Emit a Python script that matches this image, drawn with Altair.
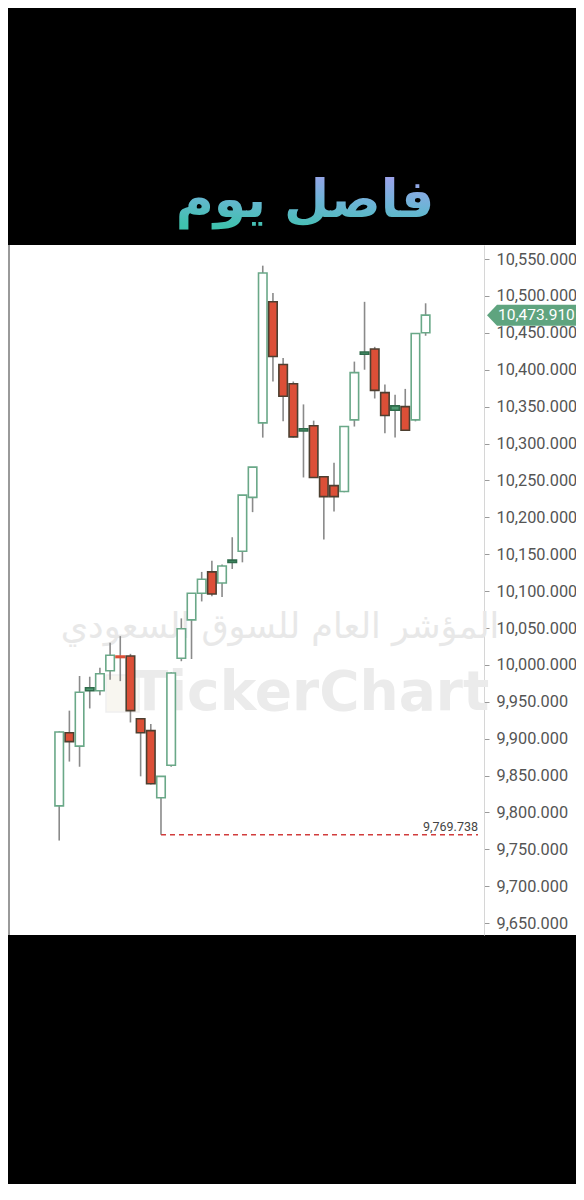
import altair as alt
import pandas as pd

# ---- data ----
idx = list(range(37))
opens = [9809, 9908, 9890, 9965, 9965, 9992, 10012, 10012, 9927, 9911,
         9820, 9864, 10009, 10061, 10097, 10126, 10111, 10139, 10154, 10227,
         10328, 10492, 10407, 10381, 10317, 10324, 10255, 10243, 10235, 10332,
         10421, 10428, 10369, 10345, 10350, 10332, 10450]
highs = [9910, 9938, 9985, 9984, 9996, 10030, 10039, 10015, 9928, 9920,
         9849, 9990, 10063, 10097, 10126, 10141, 10136, 10173, 10230, 10268,
         10541, 10504, 10416, 10384, 10353, 10331, 10256, 10274, 10323, 10411,
         10492, 10431, 10380, 10366, 10374, 10449, 10490]
lows = [9762, 9869, 9862, 9941, 9959, 9980, 9978, 9922, 9849, 9838,
        9769.738, 9862, 10005, 10008, 10086, 10093, 10092, 10130, 10139, 10207,
        10308, 10384, 10330, 10308, 10254, 10254, 10170, 10208, 10234, 10323,
        10400, 10361, 10314, 10308, 10318, 10330, 10446]
closes = [9909, 9896, 9963, 9969, 9988, 10013, 10010, 9938, 9908, 9839,
          9849, 9989, 10049, 10097, 10116, 10096, 10134, 10142, 10230, 10268,
          10531, 10418, 10364, 10309, 10320, 10254, 10228, 10228, 10323, 10396,
          10424, 10372, 10338, 10351, 10318, 10449, 10473.91]

y_ticks = [9650, 9700, 9750, 9800, 9850, 9900, 9950, 10000, 10050, 10100,
           10150, 10200, 10250, 10300, 10350, 10400, 10450, 10500, 10550]
last_price = 10473.91
last_label = "10,473.910"
low_level = 9769.738
low_label = "9,769.738"
low_index = 10
title_text = "فاصل يوم"
wm_arabic = "المؤشر العام للسوق السعودي"
wm_latin = "TickerChart"

df = pd.DataFrame({"i": idx, "o": opens, "h": highs, "l": lows, "c": closes})


def kind(o, c):
    if abs(c - o) <= 8:
        return "updoji" if c >= o else "downdoji"
    return "up" if c > o else "down"


df["kind"] = [kind(o, c) for o, c in zip(df.o, df.c)]

W, H = 566, 690
xscale = alt.Scale(domain=[-4.343, 50.284], nice=False, zero=False)
yscale = alt.Scale(domain=[9634, 10569], nice=False, zero=False)
yaxis = alt.Axis(orient="right", offset=-92, values=y_ticks, format=",.3f",
                 title=None, grid=False, domainColor="#d6d6d6", tickColor="#9a9a9a",
                 tickSize=5, labelPadding=7, labelFont="Roboto", labelFontSize=16.3,
                 labelColor="#555555")

kinds = ["up", "down", "updoji", "downdoji"]
fill_scale = alt.Scale(domain=kinds, range=["#ffffff", "#dc4f37", "#4f9a72", "#dc4f37"])
stroke_scale = alt.Scale(domain=kinds, range=["#6aa888", "#4d3f30", "#2f6b4b", "#dc4f37"])

base = alt.Chart(df)

wicks = base.mark_rule(color="#8a8a8a", strokeWidth=1.6).encode(
    x=alt.X("i:Q", scale=xscale, axis=None),
    y=alt.Y("l:Q", scale=yscale, axis=yaxis),
    y2="h:Q",
)

bodies = base.mark_bar(size=8.5, strokeWidth=1.6).encode(
    x=alt.X("i:Q", scale=xscale, axis=None),
    y=alt.Y("o:Q", scale=yscale, axis=yaxis),
    y2="c:Q",
    fill=alt.Fill("kind:N", scale=fill_scale, legend=None),
    stroke=alt.Stroke("kind:N", scale=stroke_scale, legend=None),
)

one = pd.DataFrame({"i": [low_index], "v": [low_level], "t": [low_label]})
low_line = alt.Chart(one).mark_rule(color="#d13c3c", strokeDash=[5, 4], strokeWidth=1.5).encode(
    x=alt.X("i:Q", scale=xscale, axis=None),
    x2=alt.value(468),
    y=alt.Y("v:Q", scale=yscale, axis=yaxis),
)
low_text = alt.Chart(one).mark_text(align="right", baseline="middle", dy=-8,
                                    font="Roboto", fontSize=12.5, color="#444444").encode(
    x=alt.value(468),
    y=alt.Y("v:Q", scale=yscale, axis=yaxis),
    text="t:N",
)

lp = pd.DataFrame({"v": [last_price], "t": [last_label]})
tag = alt.Chart(lp).mark_point(
    shape="M -1 0 L -0.775 -0.236 L 1 -0.236 L 1 0.236 L -0.775 0.236 Z",
    size=7921, filled=True, color="#5fa47f", opacity=1, strokeWidth=0,
).encode(
    x=alt.value(521.5),
    y=alt.Y("v:Q", scale=yscale, axis=yaxis),
)
tag_text = alt.Chart(lp).mark_text(align="left", baseline="middle", font="Roboto",
                                   fontSize=15.5, color="white").encode(
    x=alt.value(488),
    y=alt.Y("v:Q", scale=yscale, axis=yaxis),
    text="t:N",
)

wm = pd.DataFrame({"a": [wm_arabic], "b": [wm_latin], "c": [title_text]})
wm_ar = alt.Chart(wm).mark_text(font="DejaVu Sans", fontSize=35, color="#e8e8e8",
                                align="center", baseline="middle").encode(
    x=alt.value(270), y=alt.value(382), text="a:N")
wm_logo = alt.Chart(wm).mark_rect(fill="#f8f6f0", stroke="#efefef", strokeWidth=1.5).encode(
    x=alt.value(96), x2=alt.value(129), y=alt.value(430), y2=alt.value(467))
wm_en = alt.Chart(wm).mark_text(font="DejaVu Sans", fontWeight="bold", fontSize=55, color="#ebebeb",
                                align="center", baseline="middle").encode(
    x=alt.value(300), y=alt.value(448), text="b:N")

title_grad = alt.Gradient(
    gradient="linear",
    stops=[alt.GradientStop(offset=0, color="#a4a0ee"),
           alt.GradientStop(offset=0.5, color="#6cb4d6"),
           alt.GradientStop(offset=1, color="#3fc1ad")],
    x1=0.65, y1=0, x2=0.35, y2=1,
)
title = alt.Chart(wm).mark_text(font="DejaVu Sans", fontWeight="bold", fontSize=52,
                                color=title_grad, align="center", baseline="middle").encode(
    x=alt.value(295), y=alt.value(-44), text="c:N")

left_bar = alt.Chart(wm).mark_rect(color="#9a9a9a").encode(
    x=alt.value(-2), x2=alt.value(0), y=alt.value(0), y2=alt.value(H))

chart = alt.layer(
    wm_ar, wm_logo, wm_en, wicks, bodies, low_line, low_text, tag, tag_text, title, left_bar
).properties(
    width=W, height=H,
    autosize=alt.AutoSizeParams(type="none"),
    padding={"left": 2, "top": 237, "right": 0, "bottom": 249},
    background="black",
).configure_view(fill="white", stroke=None)

chart.save("out.html", embed_options={"renderer": "svg", "actions": False})
